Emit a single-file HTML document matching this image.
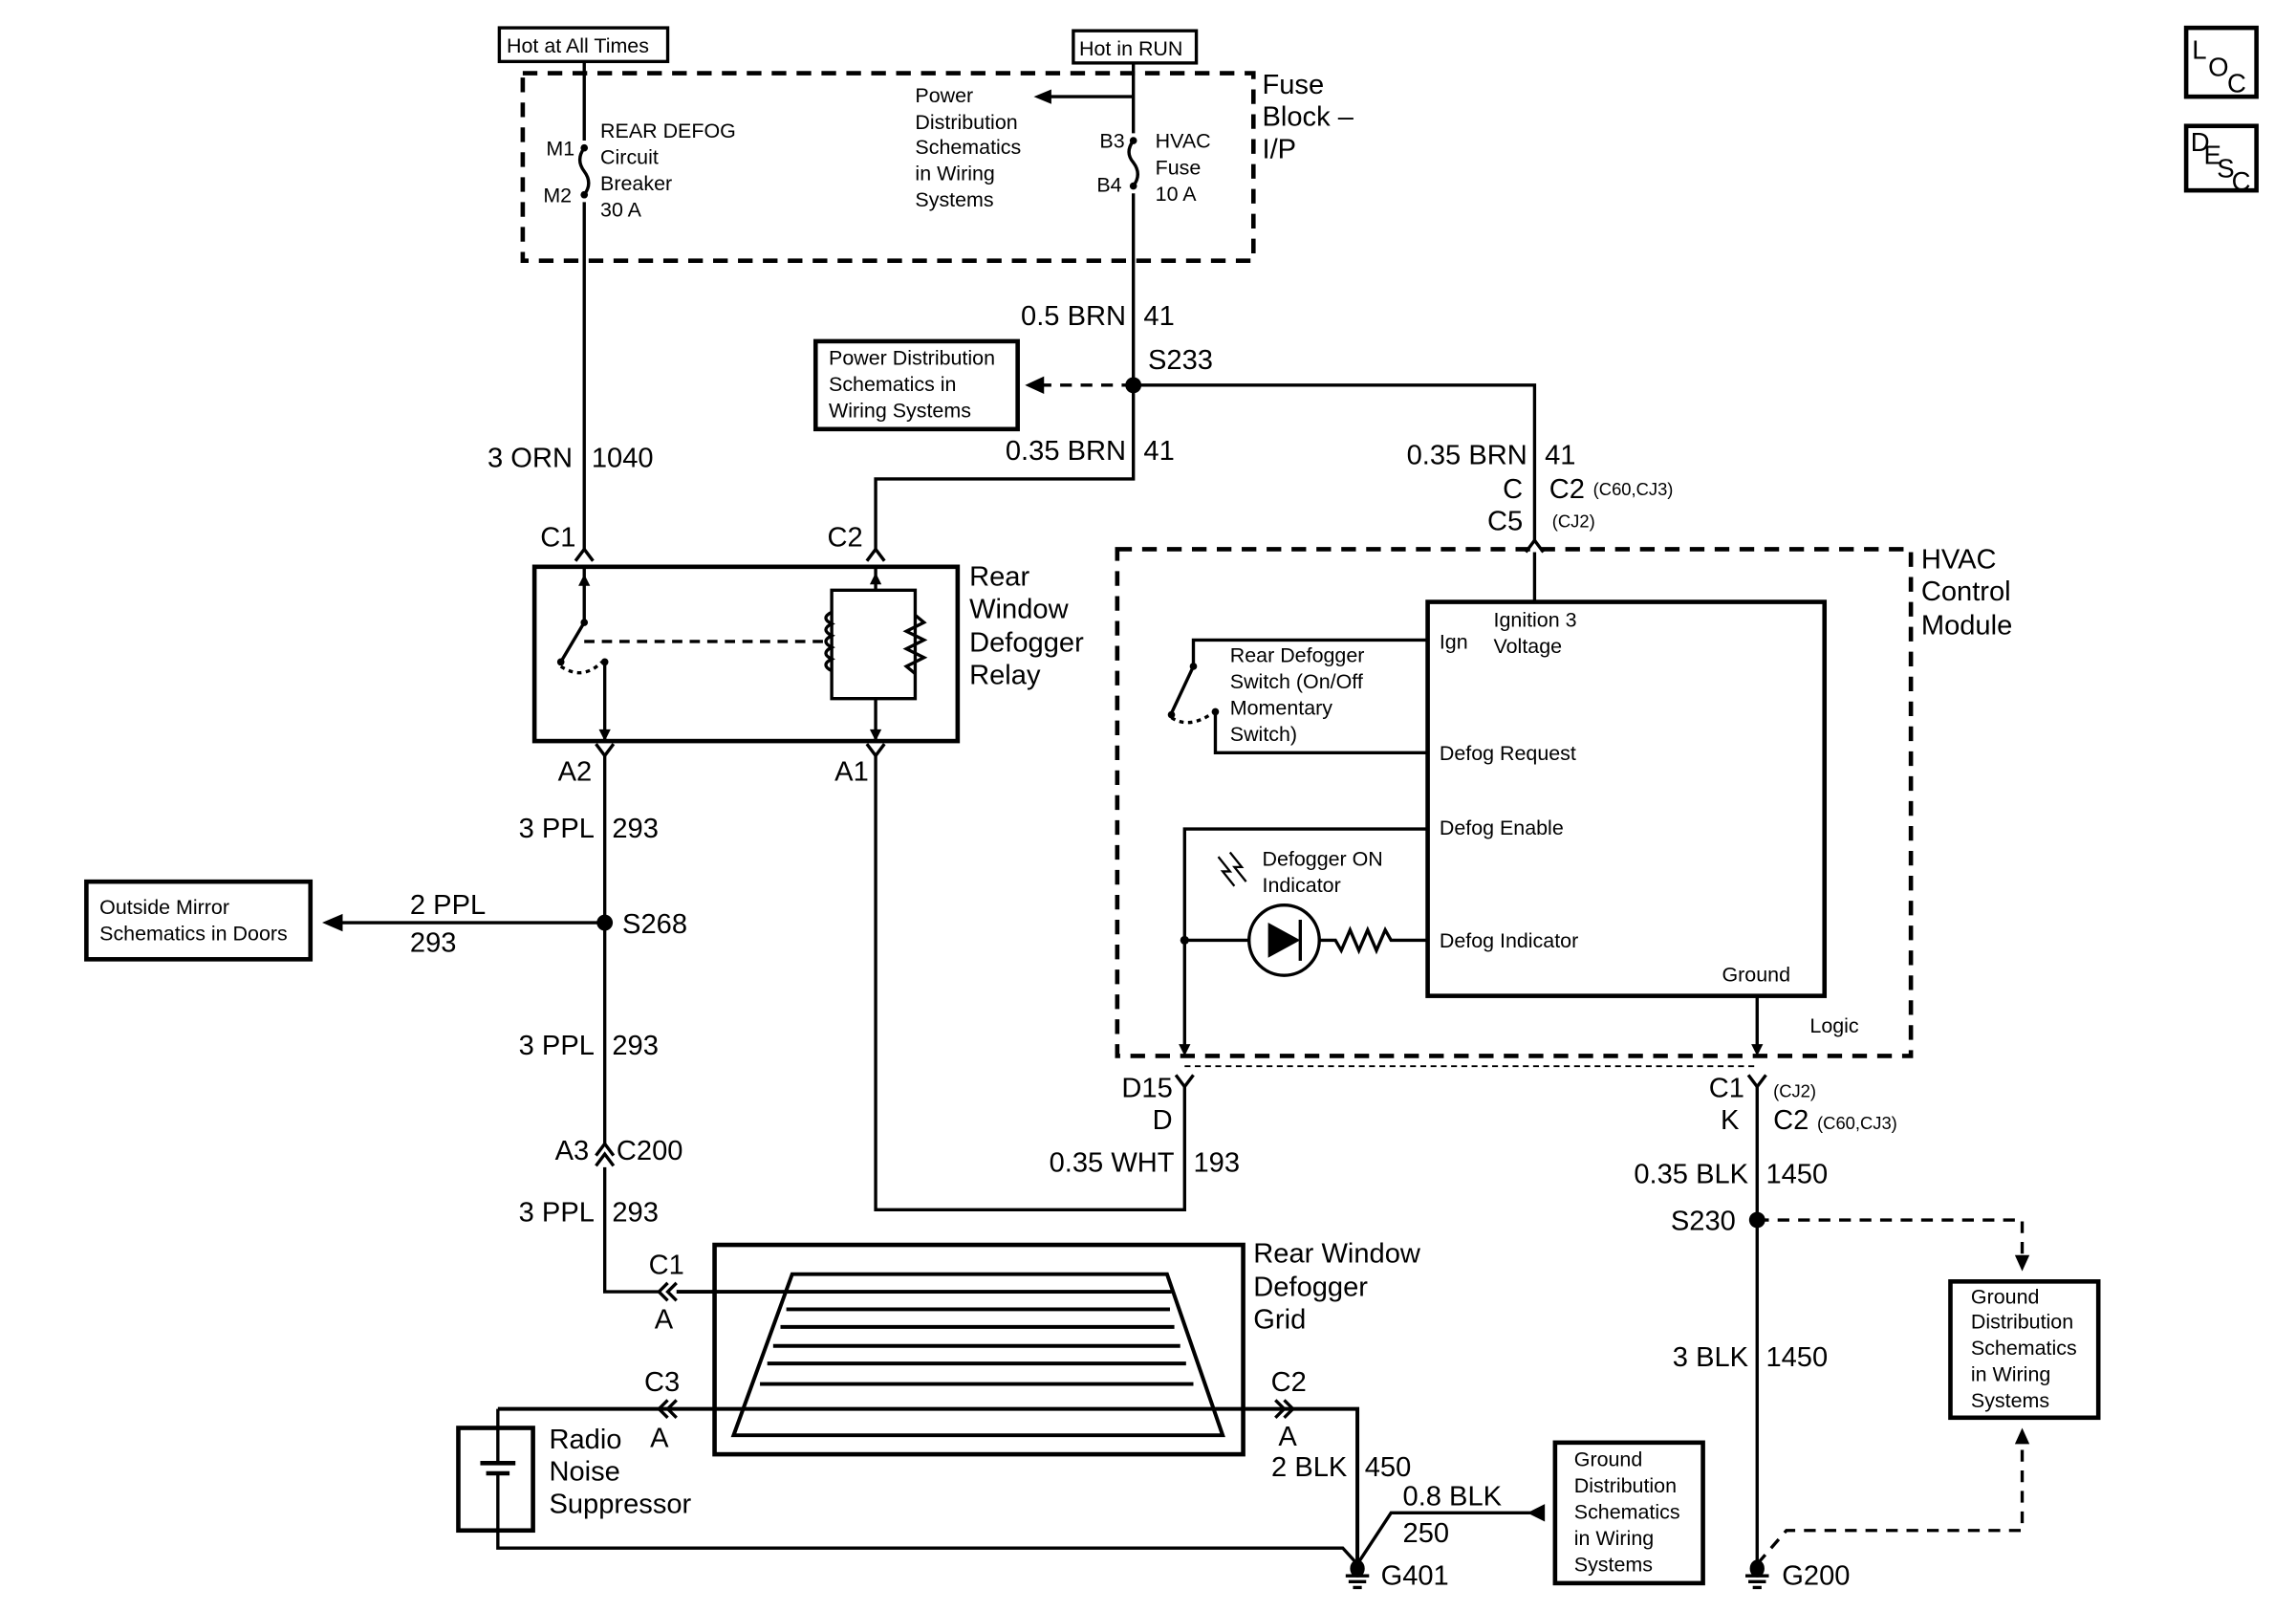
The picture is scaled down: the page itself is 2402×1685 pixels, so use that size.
<!DOCTYPE html>
<html><head><meta charset="utf-8"><style>
html,body{margin:0;padding:0;background:#fff}
svg{display:block}
text{font-family:"Liberation Sans",sans-serif;fill:#000}
.b{font-size:19px}
.s{font-size:14px}
.xs{font-size:12px}
.l{font-size:18px}
</style></head><body>
<svg width="2402" height="1685" viewBox="0 0 1568 1100" preserveAspectRatio="none" xmlns="http://www.w3.org/2000/svg">
<g fill="none" stroke="#000" stroke-width="2.2">
<rect x="1493" y="19" width="48" height="47" stroke-width="3"/>
<rect x="1493" y="86" width="48" height="44" stroke-width="3"/>
<rect x="341" y="19" width="115" height="23"/>
<rect x="733" y="21" width="84" height="22"/>
<rect x="357" y="50" width="499" height="128" stroke-dasharray="10,7" stroke-width="3"/>
<path d="M399 42V96 M399 138V376"/>
<path d="M399 101 q-6 8 0 16 q6 8 0 16" />
<path d="M774 43V91 M774 132V327H598V376"/>
<path d="M774 96 q-6 8 0 15 q6 8 0 16"/>
<path d="M774 66H716"/>
<path d="M774 263H1048V370"/>
<path d="M774 263H712" stroke-dasharray="8,6"/>
<rect x="557" y="233" width="138" height="60" stroke-width="3"/>
<polyline points="393,383 399,375 405,383"/>
<polyline points="592,383 598,375 604,383"/>
<polyline points="1042,377 1048,369 1054,377"/>
<path d="M1048 377V411"/>
<rect x="365" y="387" width="289" height="119" stroke-width="3"/>
<path d="M399 387V425 L383 452"/>
<path d="M413 452V506"/>
<path d="M399 438H565" stroke-dasharray="7,5"/>
<path d="M383 455 q15 10 28 -3" stroke-dasharray="3,3"/>
<path d="M598 387V403H568V477H598V506 M598 403H625V477H598"/>
<path d="M568 418 q-8 4 0 8 q-8 4 0 8 q-8 4 0 8 q-8 4 0 8 q-8 4 0 8" />
<path d="M625 420 l6 5 -12 6 12 6 -12 6 12 6 -12 6 6 5"/>
<polyline points="407,508 413,516 419,508"/>
<polyline points="592,508 598,516 604,508"/>
<path d="M413 516V782 M413 797V882H450"/>
<polyline points="407,789 413,781 419,789"/>
<polyline points="407,796 413,788 419,796"/>
<path d="M413 630H230"/>
<rect x="59" y="602" width="153" height="53" stroke-width="3"/>
<rect x="488" y="850" width="361" height="143" stroke-width="3"/>
<path d="M541 870H797L835 980H501Z" stroke-width="2.6"/>
<path d="M537 894H799 M533 906H802 M528 919H806 M524 931H810 M519 945H815" stroke-width="2.6"/>
<path d="M462 882H800" stroke-width="2.6"/>
<polyline points="456,876 450,882 456,888"/>
<polyline points="462,876 456,882 462,888"/>
<path d="M340 962H927V1068" stroke-width="2.6"/>
<polyline points="456,956 450,962 456,968"/>
<polyline points="462,956 456,962 462,968"/>
<polyline points="871,956 877,962 871,968"/>
<polyline points="877,956 883,962 877,968"/>
<rect x="313" y="975" width="51" height="70" stroke-width="3"/>
<path d="M340 962V999 M340 1006V1057H917L927 1068"/>
<path d="M328 999H352 M332 1006H348" stroke-width="3"/>
<path d="M1050 1033H950L927 1068"/>
<rect x="1062" y="985" width="101" height="96" stroke-width="3"/>
<path d="M919 1076H935 M921 1080H933 M924 1084H930"/>
<path d="M1192 1076H1208 M1194 1080H1206 M1197 1084H1203"/>
<rect x="763" y="375" width="542" height="346" stroke-dasharray="10,7" stroke-width="3"/>
<rect x="975" y="411" width="271" height="269" stroke-width="3"/>
<path d="M975 437H815V455 L800 487"/>
<path d="M830 486V514H975"/>
<path d="M800 490 q12 8 28 -3" stroke-dasharray="3,3"/>
<path d="M975 566H809V718"/>
<path d="M975 642H950 l-4 -7 -6 14 -6 -14 -6 14 -6 -14 -6 14 -4 -7H901"/>
<circle cx="877" cy="642" r="24"/>
<path d="M853 642H809"/>
<path d="M888 628V656"/>
<path d="M1200 680V718"/>
<path d="M809 728H1200" stroke-dasharray="4,3" stroke-width="1.2"/>
<polyline points="803,734 809,742 815,734"/>
<polyline points="1194,734 1200,742 1206,734"/>
<path d="M809 742V826H598V516"/>
<path d="M1200 742V1068"/>
<path d="M1200 833H1381V858" stroke-dasharray="8,6"/>
<rect x="1332" y="875" width="101" height="93" stroke-width="3"/>
<path d="M1381 990V1045H1220L1200 1068" stroke-dasharray="8,6"/>
<path d="M832 585 l8 10 -5 0 8 10 M840 582 l8 10 -5 0 8 10" stroke-width="1.5"/>
</g>
<g fill="#000" stroke="none">
<polygon points="706,66 718,61 718,71"/>
<polygon points="700,263 713,257 713,269"/>
<polygon points="220,630 234,624 234,636"/>
<polygon points="1043,1033 1055,1027 1055,1039"/>
<polygon points="1381,868 1376,857 1386,857"/>
<polygon points="1381,975 1376,986 1386,986"/>
<polygon points="866,630 866,654 888,642"/>
<polygon points="399,392 395,400 403,400"/>
<polygon points="413,506 409,498 417,498"/>
<polygon points="598,391 594,399 602,399"/>
<polygon points="598,506 594,498 602,498"/>
<polygon points="809,721 805,713 813,713"/>
<polygon points="1200,721 1196,713 1204,713"/>
<circle cx="774" cy="263" r="5.5"/>
<circle cx="413" cy="630" r="5.5"/>
<circle cx="1200" cy="833" r="5.5"/>
<circle cx="809" cy="642" r="3"/>
<circle cx="399" cy="101" r="2.5"/><circle cx="399" cy="133" r="2.5"/>
<circle cx="774" cy="96" r="2.5"/><circle cx="774" cy="127" r="2.5"/>
<circle cx="399" cy="425" r="2.5"/><circle cx="383" cy="452" r="2.5"/><circle cx="413" cy="452" r="2.5"/>
<circle cx="815" cy="455" r="2.5"/><circle cx="800" cy="488" r="2.5"/><circle cx="830" cy="486" r="2.5"/>
<ellipse cx="927" cy="1071" rx="5" ry="6"/>
<ellipse cx="1200" cy="1071" rx="5" ry="6"/>
</g>
<text x="1497" y="40" class="l">L</text><text x="1508" y="52" class="l">O</text><text x="1521" y="63" class="l">C</text>
<text x="1496" y="103" class="l">D</text><text x="1505" y="112" class="l">E</text><text x="1514" y="121" class="l">S</text><text x="1524" y="130" class="l">C</text>
<text x="346" y="36" class="s">Hot at All Times</text>
<text x="737" y="38" class="s">Hot in RUN</text>
<text x="862" y="64" class="b">Fuse</text><text x="862" y="86" class="b">Block –</text><text x="862" y="108" class="b">I/P</text>
<text x="373" y="106" class="s">M1</text><text x="371" y="138" class="s">M2</text>
<text x="410" y="94" class="s">REAR DEFOG</text><text x="410" y="112" class="s">Circuit</text><text x="410" y="130" class="s">Breaker</text><text x="410" y="148" class="s">30 A</text>
<text x="625" y="70" class="s">Power</text><text x="625" y="88" class="s">Distribution</text><text x="625" y="105" class="s">Schematics</text><text x="625" y="123" class="s">in Wiring</text><text x="625" y="141" class="s">Systems</text>
<text x="751" y="101" class="s">B3</text><text x="749" y="131" class="s">B4</text>
<text x="789" y="101" class="s">HVAC</text><text x="789" y="119" class="s">Fuse</text><text x="789" y="137" class="s">10 A</text>
<text x="769" y="222" class="b" text-anchor="end">0.5 BRN</text><text x="781" y="222" class="b">41</text>
<text x="784" y="252" class="b">S233</text>
<text x="566" y="249" class="s">Power Distribution</text><text x="566" y="267" class="s">Schematics in</text><text x="566" y="285" class="s">Wiring Systems</text>
<text x="769" y="314" class="b" text-anchor="end">0.35 BRN</text><text x="781" y="314" class="b">41</text>
<text x="391" y="319" class="b" text-anchor="end">3 ORN</text><text x="404" y="319" class="b">1040</text>
<text x="1043" y="317" class="b" text-anchor="end">0.35 BRN</text><text x="1055" y="317" class="b">41</text>
<text x="1040" y="340" class="b" text-anchor="end">C</text><text x="1058" y="340" class="b">C2</text><text x="1088" y="338" class="xs">(C60,CJ3)</text>
<text x="1040" y="362" class="b" text-anchor="end">C5</text><text x="1060" y="360" class="xs">(CJ2)</text>
<text x="369" y="373" class="b">C1</text><text x="565" y="373" class="b">C2</text>
<text x="662" y="400" class="b">Rear</text><text x="662" y="422" class="b">Window</text><text x="662" y="445" class="b">Defogger</text><text x="662" y="467" class="b">Relay</text>
<text x="381" y="533" class="b">A2</text><text x="570" y="533" class="b">A1</text>
<text x="406" y="572" class="b" text-anchor="end">3 PPL</text><text x="418" y="572" class="b">293</text>
<text x="425" y="637" class="b">S268</text>
<text x="68" y="624" class="s">Outside Mirror</text><text x="68" y="642" class="s">Schematics in Doors</text>
<text x="280" y="624" class="b">2 PPL</text><text x="280" y="650" class="b">293</text>
<text x="406" y="720" class="b" text-anchor="end">3 PPL</text><text x="418" y="720" class="b">293</text>
<text x="379" y="792" class="b">A3</text><text x="421" y="792" class="b">C200</text>
<text x="406" y="834" class="b" text-anchor="end">3 PPL</text><text x="418" y="834" class="b">293</text>
<text x="443" y="870" class="b">C1</text><text x="447" y="907" class="b">A</text>
<text x="856" y="862" class="b">Rear Window</text><text x="856" y="885" class="b">Defogger</text><text x="856" y="907" class="b">Grid</text>
<text x="440" y="950" class="b">C3</text><text x="444" y="988" class="b">A</text>
<text x="868" y="950" class="b">C2</text><text x="873" y="987" class="b">A</text>
<text x="375" y="989" class="b">Radio</text><text x="375" y="1011" class="b">Noise</text><text x="375" y="1033" class="b">Suppressor</text>
<text x="920" y="1008" class="b" text-anchor="end">2 BLK</text><text x="932" y="1008" class="b">450</text>
<text x="958" y="1028" class="b">0.8 BLK</text><text x="958" y="1053" class="b">250</text>
<text x="1075" y="1001" class="s">Ground</text><text x="1075" y="1019" class="s">Distribution</text><text x="1075" y="1037" class="s">Schematics</text><text x="1075" y="1055" class="s">in Wiring</text><text x="1075" y="1073" class="s">Systems</text>
<text x="943" y="1082" class="b">G401</text>
<text x="1312" y="388" class="b">HVAC</text><text x="1312" y="410" class="b">Control</text><text x="1312" y="433" class="b">Module</text>
<text x="1020" y="428" class="s">Ignition 3</text><text x="1020" y="446" class="s">Voltage</text>
<text x="983" y="443" class="s">Ign</text>
<text x="840" y="452" class="s">Rear Defogger</text><text x="840" y="470" class="s">Switch (On/Off</text><text x="840" y="488" class="s">Momentary</text><text x="840" y="506" class="s">Switch)</text>
<text x="983" y="519" class="s">Defog Request</text>
<text x="983" y="570" class="s">Defog Enable</text>
<text x="862" y="591" class="s">Defogger ON</text><text x="862" y="609" class="s">Indicator</text>
<text x="983" y="647" class="s">Defog Indicator</text>
<text x="1176" y="670" class="s">Ground</text>
<text x="1236" y="705" class="s">Logic</text>
<text x="766" y="749" class="b">D15</text><text x="787" y="771" class="b">D</text>
<text x="802" y="800" class="b" text-anchor="end">0.35 WHT</text><text x="815" y="800" class="b">193</text>
<text x="1167" y="749" class="b">C1</text><text x="1211" y="749" class="xs">(CJ2)</text>
<text x="1175" y="771" class="b">K</text><text x="1211" y="771" class="b">C2</text><text x="1241" y="771" class="xs">(C60,CJ3)</text>
<text x="1194" y="808" class="b" text-anchor="end">0.35 BLK</text><text x="1206" y="808" class="b">1450</text>
<text x="1141" y="840" class="b">S230</text>
<text x="1346" y="890" class="s">Ground</text><text x="1346" y="907" class="s">Distribution</text><text x="1346" y="925" class="s">Schematics</text><text x="1346" y="943" class="s">in Wiring</text><text x="1346" y="961" class="s">Systems</text>
<text x="1194" y="933" class="b" text-anchor="end">3 BLK</text><text x="1206" y="933" class="b">1450</text>
<text x="1217" y="1082" class="b">G200</text>
</svg>
</body></html>
